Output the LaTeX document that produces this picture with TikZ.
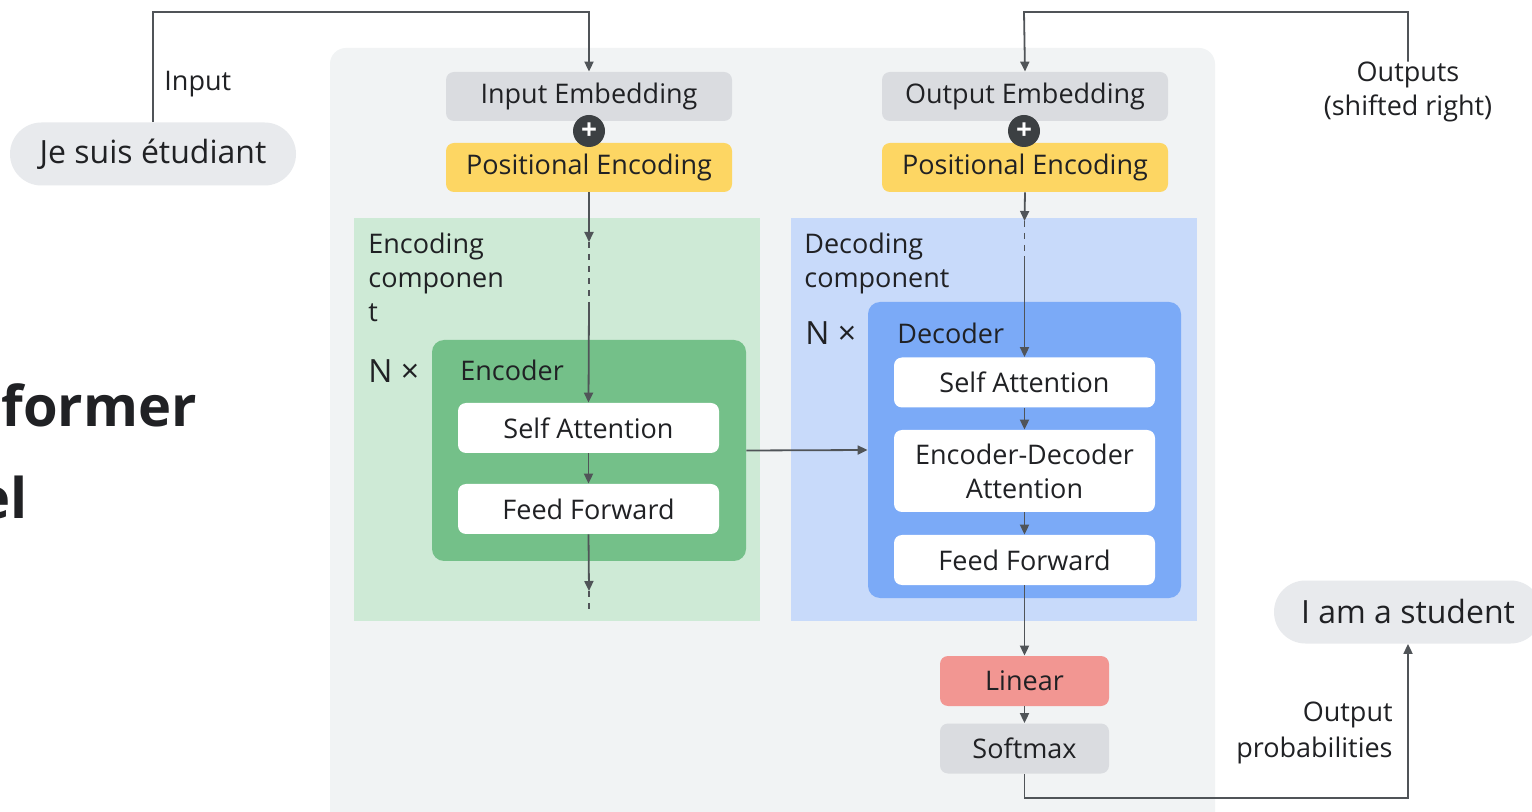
\documentclass[tikz,border=0pt]{standalone}
\usepackage{fontspec}
\setmainfont{Open Sans}
\usetikzlibrary{arrows.meta,positioning}

\begin{document}
\begin{tikzpicture}[x=0.5pt,y=0.5pt,yscale=-1,xscale=1,
  txt/.style={text={rgb,255:red,32;green,33;blue,36}},
  blk/.style={rounded corners=4pt,inner sep=0pt,font=\fontsize{13.5}{17}\selectfont,txt,align=center},
  whitebox/.style={blk,fill=white,minimum width=130.5pt,minimum height=25pt},
  embbox/.style={blk,fill={rgb,255:red,218;green,220;blue,224},minimum width=143pt,minimum height=24.5pt},
  posbox/.style={blk,fill={rgb,255:red,253;green,214;blue,99},minimum width=143pt,minimum height=24.5pt},
  pill/.style={rounded corners=15.75pt,fill={rgb,255:red,232;green,234;blue,237},minimum height=31.5pt,inner sep=0pt,font=\fontsize{16}{19}\selectfont,txt},
  plus/.style={circle,fill={rgb,255:red,60;green,64;blue,67},minimum size=16pt,inner sep=0pt,text=white,font=\bfseries\fontsize{14}{14}\selectfont},
  lbl/.style={inner sep=0pt,font=\fontsize{13.5}{17}\selectfont,txt},
  ttl/.style={inner sep=0pt,txt,font=\bfseries\fontsize{28}{28}\selectfont},
  ln/.style={draw={rgb,255:red,80;green,84;blue,88},line width=0.9pt},
  arr/.style={ln,-{Triangle[length=5pt,width=4.5pt]}},
  dsh/.style={ln,dash pattern=on 3pt off 3pt}
]
\useasboundingbox (0,0) rectangle (1532,812);
\clip (0,0) rectangle (1532,812);
\fill[white] (0,0) rectangle (1532,812);

%Shape: Rounded Rect, main panel
\fill[fill={rgb,255:red,241;green,243;blue,244},rounded corners=8pt] (330,48) rectangle (1215,850);
%Shape: Rectangle, encoding component
\fill[fill={rgb,255:red,206;green,234;blue,214}] (354,218) rectangle (760,621);
%Shape: Rectangle, decoding component
\fill[fill={rgb,255:red,200;green,218;blue,250}] (791,218) rectangle (1197,621);

%Shape: Rounded Rect, encoder / decoder
\node[rounded corners=6pt,fill={rgb,255:red,116;green,192;blue,137},minimum width=157pt,minimum height=110.5pt,inner sep=0pt] (enc) at (589,450.5) {};
\node[rounded corners=6pt,fill={rgb,255:red,123;green,170;blue,247},minimum width=156.5pt,minimum height=148pt,inner sep=0pt] (dec) at (1024.5,450) {};

% Text Node
\node[pill,minimum width=143pt] (jsu) at (153,154) {Je suis étudiant};
\node[pill,minimum width=134pt] (ias) at (1408,612) {I am a student};

% encoder side
\node[embbox] (iemb) at (589,96.5) {Input Embedding};
\node[posbox] (ipos) at (589,167.5) {Positional Encoding};
\node[plus] (iplus) at (589,131) {+};
\node[whitebox] (esa) at (588.5,428) {Self Attention};
\node[whitebox] (eff) at (588.5,509) {Feed Forward};

% decoder side
\node[embbox] (oemb) at (1025,96.5) {Output Embedding};
\node[posbox] (opos) at (1025,167.5) {Positional Encoding};
\node[plus] (oplus) at (1024,131) {+};
\node[whitebox] (dsa) at (1024.5,382.5) {Self Attention};
\node[whitebox,minimum height=41pt] (eda) at (1024.5,471) {Encoder-Decoder\\Attention};
\node[whitebox] (dff) at (1024.5,560) {Feed Forward};

\node[blk,fill={rgb,255:red,242;green,150;blue,146},minimum width=84.5pt,minimum height=25pt] (lin) at (1024.5,681) {Linear};
\node[blk,fill={rgb,255:red,218;green,220;blue,224},minimum width=84.5pt,minimum height=25pt] (smx) at (1024.5,748.5) {Softmax};

% Text Node
\node[lbl,anchor=west] (inlbl) at (164,84) {Input};
\node[lbl,align=center] (outlbl) at (1408,92) {Outputs\\(shifted right)};
\node[lbl,align=right,anchor=east,font=\fontsize{13.5}{18}\selectfont] (problbl) at (1393,733) {Output\\probabilities};
\node[lbl,align=left,anchor=north west] (enclbl) at (368,233) {Encoding\\componen\\t};
\node[lbl,align=left,anchor=north west] (declbl) at (804,233) {Decoding\\component};
\node[lbl,anchor=west] (encname) at (460,370) {Encoder};
\node[lbl,anchor=west] (decname) at (897,333) {Decoder};
\node[lbl,anchor=west,font=\fontsize{16}{19}\selectfont] (encn) at (368,371) {N ×};
\node[lbl,anchor=west,font=\fontsize{16}{19}\selectfont] (decn) at (805,333) {N ×};
\node[ttl,anchor=base west] (ttl1) at (1,427) {former};
\node[ttl,anchor=base east] (ttl2) at (28,518) {el};

% connectors
\coordinate (intop) at (589,12);
\coordinate (outtop) at (1024,12);
\coordinate (botout) at (1408,798);
\coordinate (ea) at (589,242);
\coordinate (eb) at (589,305);
\coordinate (ec) at (589,591);
\coordinate (ed) at (589,614);
\coordinate (da) at (1024.5,221);
\coordinate (db) at (1024.5,256);

\draw[arr] (jsu.north) |- (intop) -- (iemb.north);
\draw[arr] (outlbl.north) |- (outtop) -- (oemb.north);
\draw[arr] (ipos.south) -- (ea);
\draw[dsh] (ea) -- (eb);
\draw[arr] (eb) -- (esa.north);
\draw[arr] (esa.south) -- (eff.north);
\draw[arr] (eff.south) -- (ec);
\draw[dsh] (ec) -- (ed);
\draw[arr] (opos.south) -- (da);
\draw[dsh] (da) -- (db);
\draw[arr] (db) -- (dsa.north);
\draw[arr] (dsa.south) -- (eda.north);
\draw[arr] (eda.south) -- (dff.north);
\draw[arr] (enc.east) -- (dec.west);
\draw[arr] (dff.south) -- (lin.north);
\draw[arr] (lin.south) -- (smx.north);
\draw[arr] (smx.south) |- (botout) -- (ias.south);

\end{tikzpicture}
\end{document}
